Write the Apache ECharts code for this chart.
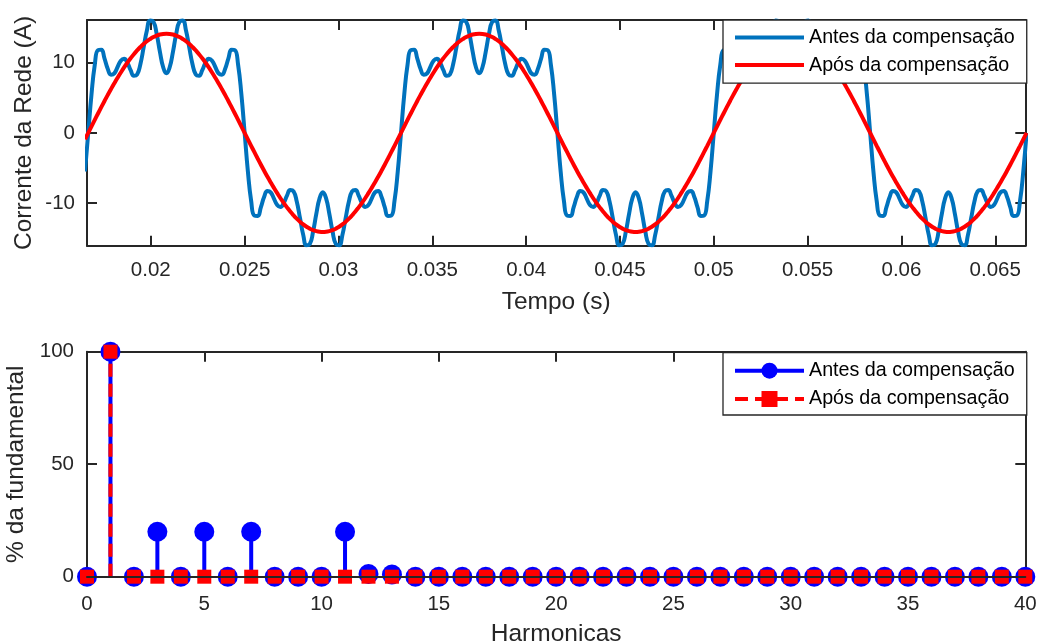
<!DOCTYPE html>
<html><head><meta charset="utf-8">
<script src="https://cdn.jsdelivr.net/npm/echarts/dist/echarts.min.js"></script>
<style>html,body{margin:0;padding:0;background:#fff}#c{width:1038px;height:644px}</style>
</head><body><div id="c"></div>
<script>
// ---- Top plot: grid current, sampled every 1/5760 s (3.75 deg of 60 Hz) ----
const T_START = 1 / 60 - 1 / 5760;   // first sample time (s)
const T_STEP = 1 / 5760;             // sample step (s)

const antes = [-5.49,
 0, 5.49, 9.67, 11.77, 11.82, 10.56, 9.08, 8.27, 8.46, 9.36, 10.26, 10.54, 9.97, 8.92, 8.12, 8.31, 9.77, 12.14, 14.55, 15.99, 15.81, 14.07, 11.53, 9.33, 8.46, 9.33, 11.53, 14.07, 15.81, 15.99, 14.55, 12.14, 9.77, 8.31, 8.12, 8.92, 9.97, 10.54, 10.26, 9.36, 8.46, 8.27, 9.08, 10.56, 11.82, 11.77, 9.67, 5.49,
 0, -5.49, -9.67, -11.77, -11.82, -10.56, -9.08, -8.27, -8.46, -9.36, -10.26, -10.54, -9.97, -8.92, -8.12, -8.31, -9.77, -12.14, -14.55, -15.99, -15.81, -14.07, -11.53, -9.33, -8.46, -9.33, -11.53, -14.07, -15.81, -15.99, -14.55, -12.14, -9.77, -8.31, -8.12, -8.92, -9.97, -10.54, -10.26, -9.36, -8.46, -8.27, -9.08, -10.56, -11.82, -11.77, -9.67, -5.49,
 0, 5.49, 9.67, 11.77, 11.82, 10.56, 9.08, 8.27, 8.46, 9.36, 10.26, 10.54, 9.97, 8.92, 8.12, 8.31, 9.77, 12.14, 14.55, 15.99, 15.81, 14.07, 11.53, 9.33, 8.46, 9.33, 11.53, 14.07, 15.81, 15.99, 14.55, 12.14, 9.77, 8.31, 8.12, 8.92, 9.97, 10.54, 10.26, 9.36, 8.46, 8.27, 9.08, 10.56, 11.82, 11.77, 9.67, 5.49,
 0, -5.49, -9.67, -11.77, -11.82, -10.56, -9.08, -8.27, -8.46, -9.36, -10.26, -10.54, -9.97, -8.92, -8.12, -8.31, -9.77, -12.14, -14.55, -15.99, -15.81, -14.07, -11.53, -9.33, -8.46, -9.33, -11.53, -14.07, -15.81, -15.99, -14.55, -12.14, -9.77, -8.31, -8.12, -8.92, -9.97, -10.54, -10.26, -9.36, -8.46, -8.27, -9.08, -10.56, -11.82, -11.77, -9.67, -5.49,
 0, 5.49, 9.67, 11.77, 11.82, 10.56, 9.08, 8.27, 8.46, 9.36, 10.26, 10.54, 9.97, 8.92, 8.12, 8.31, 9.77, 12.14, 14.55, 15.99, 15.81, 14.07, 11.53, 9.33, 8.46, 9.33, 11.53, 14.07, 15.81, 15.99, 14.55, 12.14, 9.77, 8.31, 8.12, 8.92, 9.97, 10.54, 10.26, 9.36, 8.46, 8.27, 9.08, 10.56, 11.82, 11.77, 9.67, 5.49,
 0, -5.49, -9.67, -11.77, -11.82, -10.56, -9.08, -8.27, -8.46, -9.36, -10.26, -10.54, -9.97, -8.92, -8.12, -8.31, -9.77, -12.14, -14.55, -15.99, -15.81, -14.07, -11.53, -9.33, -8.46, -9.33, -11.53, -14.07, -15.81, -15.99, -14.55, -12.14, -9.77, -8.31, -8.12, -8.92, -9.97, -10.54, -10.26, -9.36, -8.46, -8.27, -9.08, -10.56, -11.82, -11.77, -9.67, -5.49,
 0];

const apos = [-0.92,
 0, 0.92, 1.84, 2.75, 3.65, 4.53, 5.40, 6.24, 7.05, 7.83, 8.58, 9.30, 9.97, 10.60, 11.19, 11.72, 12.21, 12.65, 13.03, 13.35, 13.62, 13.83, 13.98, 14.07, 14.10, 14.07, 13.98, 13.83, 13.62, 13.35, 13.03, 12.65, 12.21, 11.72, 11.19, 10.60, 9.97, 9.30, 8.58, 7.83, 7.05, 6.24, 5.40, 4.53, 3.65, 2.75, 1.84, 0.92,
 0, -0.92, -1.84, -2.75, -3.65, -4.53, -5.40, -6.24, -7.05, -7.83, -8.58, -9.30, -9.97, -10.60, -11.19, -11.72, -12.21, -12.65, -13.03, -13.35, -13.62, -13.83, -13.98, -14.07, -14.10, -14.07, -13.98, -13.83, -13.62, -13.35, -13.03, -12.65, -12.21, -11.72, -11.19, -10.60, -9.97, -9.30, -8.58, -7.83, -7.05, -6.24, -5.40, -4.53, -3.65, -2.75, -1.84, -0.92,
 0, 0.92, 1.84, 2.75, 3.65, 4.53, 5.40, 6.24, 7.05, 7.83, 8.58, 9.30, 9.97, 10.60, 11.19, 11.72, 12.21, 12.65, 13.03, 13.35, 13.62, 13.83, 13.98, 14.07, 14.10, 14.07, 13.98, 13.83, 13.62, 13.35, 13.03, 12.65, 12.21, 11.72, 11.19, 10.60, 9.97, 9.30, 8.58, 7.83, 7.05, 6.24, 5.40, 4.53, 3.65, 2.75, 1.84, 0.92,
 0, -0.92, -1.84, -2.75, -3.65, -4.53, -5.40, -6.24, -7.05, -7.83, -8.58, -9.30, -9.97, -10.60, -11.19, -11.72, -12.21, -12.65, -13.03, -13.35, -13.62, -13.83, -13.98, -14.07, -14.10, -14.07, -13.98, -13.83, -13.62, -13.35, -13.03, -12.65, -12.21, -11.72, -11.19, -10.60, -9.97, -9.30, -8.58, -7.83, -7.05, -6.24, -5.40, -4.53, -3.65, -2.75, -1.84, -0.92,
 0, 0.92, 1.84, 2.75, 3.65, 4.53, 5.40, 6.24, 7.05, 7.83, 8.58, 9.30, 9.97, 10.60, 11.19, 11.72, 12.21, 12.65, 13.03, 13.35, 13.62, 13.83, 13.98, 14.07, 14.10, 14.07, 13.98, 13.83, 13.62, 13.35, 13.03, 12.65, 12.21, 11.72, 11.19, 10.60, 9.97, 9.30, 8.58, 7.83, 7.05, 6.24, 5.40, 4.53, 3.65, 2.75, 1.84, 0.92,
 0, -0.92, -1.84, -2.75, -3.65, -4.53, -5.40, -6.24, -7.05, -7.83, -8.58, -9.30, -9.97, -10.60, -11.19, -11.72, -12.21, -12.65, -13.03, -13.35, -13.62, -13.83, -13.98, -14.07, -14.10, -14.07, -13.98, -13.83, -13.62, -13.35, -13.03, -12.65, -12.21, -11.72, -11.19, -10.60, -9.97, -9.30, -8.58, -7.83, -7.05, -6.24, -5.40, -4.53, -3.65, -2.75, -1.84, -0.92,
 0];

// ---- Bottom plot: harmonic spectrum (% of fundamental) ----
const harmonicas = [0,1,2,3,4,5,6,7,8,9,10,11,12,13,14,15,16,17,18,19,20,21,22,23,24,25,26,27,28,29,30,31,32,33,34,35,36,37,38,39,40];
const antesHarm = [0,100,0,20,0,20,0,20,0,0,0,20,1.2,1.0,0,0,0,0,0,0,0,0,0,0,0,0,0,0,0,0,0,0,0,0,0,0,0,0,0,0,0];
const aposHarm  = [0,100,0,0,0,0,0,0,0,0,0,0,0,0,0,0,0,0,0,0,0,0,0,0,0,0,0,0,0,0,0,0,0,0,0,0,0,0,0,0,0];

const legendNames = {
  a1: 'Antes da compensação', b1: 'Após da compensação',
  a2: 'Antes da compensação', b2: 'Após da compensação'
};

const tempo = antes.map((_, i) => T_START + i * T_STEP);
const pairs = (vals) => vals.map((v, i) => [tempo[i], v]);
function stems(vals) {
  const d = [];
  harmonicas.forEach((h, i) => {
    d.push({ value: [h, 0], symbol: 'none' });
    d.push({ value: [h, vals[i]] });
    d.push({ value: [h, '-'], symbol: 'none' });
  });
  return d;
}

const FONT = "'Liberation Sans', Arial, Helvetica, sans-serif";
const INK = '#262626';
const axisLine = { show: true, onZero: false, lineStyle: { color: INK, width: 2 } };
const tickIn = { show: true, inside: true, length: 10, lineStyle: { color: INK, width: 2 } };
const lbl = (extra) => Object.assign({ color: INK, fontSize: 20.5, fontFamily: FONT }, extra);
const nameStyle = { color: INK, fontSize: 24.5, fontFamily: FONT };

const chart = echarts.init(document.getElementById('c'), null, { renderer: 'canvas' });
chart.setOption({
  animation: false,
  backgroundColor: '#fff',
  grid: [
    { left: 87, right: 12.7, top: 20, bottom: 398.3, outerBoundsMode: 'none', containLabel: false },
    { left: 87, right: 12.7, top: 351.7, bottom: 67.3, outerBoundsMode: 'none', containLabel: false }
  ],
  xAxis: [
    { type: 'value', gridIndex: 0, position: 'bottom', min: 0.0166, max: 0.0666, splitNumber: 10,
      axisLine, axisTick: tickIn, splitLine: { show: false },
      axisLabel: lbl({ margin: 14, showMinLabel: false, showMaxLabel: false,
        formatter: v => String(parseFloat(v.toFixed(4))) }),
      name: 'Tempo (s)', nameLocation: 'middle', nameGap: 44, nameMoveOverlap: false, nameTextStyle: nameStyle },
    { type: 'value', gridIndex: 0, position: 'top', min: 0.0166, max: 0.0666, splitNumber: 10,
      axisLine, axisTick: tickIn, splitLine: { show: false }, axisLabel: { show: false } },
    { type: 'value', gridIndex: 1, position: 'bottom', min: 0, max: 40, interval: 5, z: 10,
      axisLine, axisTick: { show: false }, splitLine: { show: false },
      axisLabel: lbl({ margin: 17 }),
      name: 'Harmonicas', nameLocation: 'middle', nameGap: 45, nameMoveOverlap: false, nameTextStyle: nameStyle },
    { type: 'value', gridIndex: 1, position: 'top', min: 0, max: 40, interval: 5,
      axisLine, axisTick: tickIn, splitLine: { show: false }, axisLabel: { show: false } }
  ],
  yAxis: [
    { type: 'value', gridIndex: 0, position: 'left', min: -16.05, max: 16.05, splitNumber: 3,
      axisLine, axisTick: tickIn, splitLine: { show: false },
      axisLabel: lbl({ margin: 12, showMinLabel: false, showMaxLabel: false }),
      name: 'Corrente da Rede (A)', nameLocation: 'middle', nameGap: 50, nameMoveOverlap: false, nameTextStyle: nameStyle },
    { type: 'value', gridIndex: 0, position: 'right', min: -16.05, max: 16.05, splitNumber: 3,
      axisLine, axisTick: tickIn, splitLine: { show: false }, axisLabel: { show: false } },
    { type: 'value', gridIndex: 1, position: 'left', min: 0, max: 100, interval: 50,
      axisLine, axisTick: tickIn, splitLine: { show: false },
      axisLabel: lbl({ margin: 13 }),
      name: '% da fundamental', nameLocation: 'middle', nameGap: 58, nameMoveOverlap: false, nameTextStyle: nameStyle },
    { type: 'value', gridIndex: 1, position: 'right', min: 0, max: 100, interval: 50,
      axisLine, axisTick: tickIn, splitLine: { show: false }, axisLabel: { show: false } }
  ],
  legend: [
    { data: ['a1', 'b1'], orient: 'vertical', left: 723, top: 20,
      padding: [7.5, 12, 8, 10], itemWidth: 69, itemHeight: 20, itemGap: 7.6,
      formatter: n => legendNames[n], backgroundColor: '#fff', borderColor: INK, borderWidth: 1.3,
      textStyle: { color: '#000', fontSize: 19.7, fontFamily: FONT, lineHeight: 20 },
      itemStyle: { opacity: 0 }, lineStyle: { width: 4 }, selectedMode: false },
    { data: ['a2', 'b2'], orient: 'vertical', left: 723, top: 352.7,
      padding: [8, 12, 6, 10], itemWidth: 69, itemHeight: 20, itemGap: 8.3,
      formatter: n => legendNames[n], backgroundColor: '#fff', borderColor: INK, borderWidth: 1.3,
      textStyle: { color: '#000', fontSize: 19.7, fontFamily: FONT, lineHeight: 20 },
      lineStyle: { width: 4 }, selectedMode: false }
  ],
  series: [
    { name: 'a1', type: 'line', xAxisIndex: 0, yAxisIndex: 0, data: pairs(antes),
      symbol: 'none', smooth: 0.5, lineStyle: { color: '#0072BD', width: 4 }, itemStyle: { color: '#0072BD' } },
    { name: 'b1', type: 'line', xAxisIndex: 0, yAxisIndex: 0, data: pairs(apos),
      symbol: 'none', smooth: 0.5, lineStyle: { color: '#FF0000', width: 4 }, itemStyle: { color: '#FF0000' } },
    { name: 'a2', type: 'line', xAxisIndex: 2, yAxisIndex: 2, data: stems(antesHarm), clip: false,
      connectNulls: false, symbol: 'circle', symbolSize: 20, showSymbol: true,
      lineStyle: { color: '#0000FF', width: 4 }, itemStyle: { color: '#0000FF' } },
    { name: 'b2', type: 'line', xAxisIndex: 2, yAxisIndex: 2, data: stems(aposHarm), clip: false,
      connectNulls: false, symbol: 'rect', symbolSize: 14, showSymbol: true,
      lineStyle: { color: '#FF0000', width: 4, type: [13, 7] }, itemStyle: { color: '#FF0000' } }
  ]
});
</script></body></html>
